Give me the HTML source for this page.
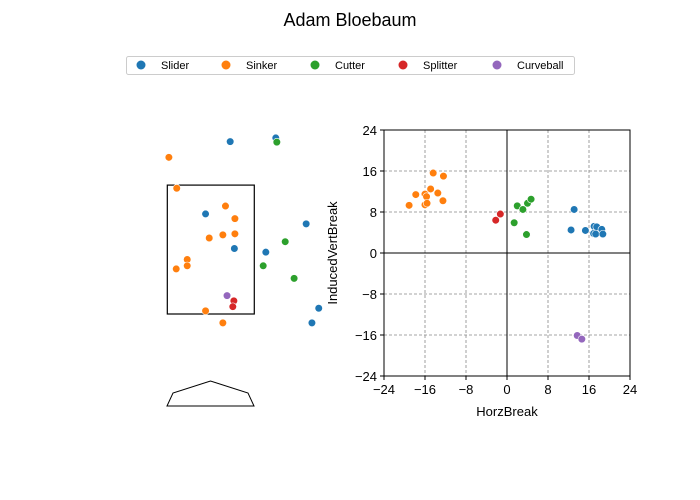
<!DOCTYPE html>
<html><head><meta charset="utf-8"><style>
body{margin:0;background:#fff;width:700px;height:500px;overflow:hidden;font-family:"Liberation Sans",sans-serif}
svg{display:block}
</style></head><body>
<svg id="chart" width="700" height="500" font-family="Liberation Sans, sans-serif">
<text x="350" y="26" text-anchor="middle" font-size="18">Adam Bloebaum</text>
<g id="legend">
<rect x="126.5" y="56.5" width="448" height="18" fill="#fff" stroke="#ccc" rx="2"/>
</g>
<g id="loc"></g>
<g id="mov"></g>
</svg>
<script>
const pitchTypes=["Slider","Sinker","Cutter","Splitter","Curveball"];
const typeColors=["#1f77b4","#ff7f0e","#2ca02c","#d62728","#9467bd"];
// movement data (inches)
const movType=[0,0,0,0,0,0,0,0,0, 1,1,1,1,1,1,1,1,1,1,1, 2,2,2,2,2,2, 3,3, 4,4];
const horzBreak=[13.1,12.5,15.3,17.0,17.5,18.5,16.9,17.3,18.7, -14.4,-12.4,-17.8,-16.0,-14.9,-13.5,-15.7,-12.5,-19.1,-16.0,-15.6, 2.0,3.1,4.0,4.7,1.4,3.8, -1.3,-2.2, 13.7,14.6];
const vertBreak=[8.5,4.5,4.4,5.2,5.1,4.6,3.8,3.7,3.7, 15.6,15.0,11.4,11.5,12.5,11.7,11.0,10.2,9.3,9.4,9.7, 9.2,8.5,9.7,10.5,5.9,3.6, 7.6,6.4, -16.1,-16.8];
const axisTicks=[-24,-16,-8,0,8,16,24];
// location data (feet)
const locType=[0,0,0,0,0,0,0,0, 2,2,2,2, 1,1,1,1,1,1,1,1,1,1,1,1, 4, 3,3];
const plateX=[0.37,1.24,-0.10,0.45,1.82,1.05,2.06,1.93, 1.26,1.42,1.00,1.59, -0.80,-0.65,0.28,0.46,-0.03,0.23,0.46,-0.45,-0.45,-0.66,-0.10,0.23, 0.31, 0.44,0.42];
const plateZ=[4.79,4.86,3.41,2.75,3.22,2.68,1.61,1.33, 4.78,2.88,2.42,2.18, 4.49,3.90,3.56,3.32,2.95,3.01,3.03,2.54,2.42,2.36,1.56,1.33, 1.85, 1.75,1.64];

const NS="http://www.w3.org/2000/svg";
function mk(parent,tag,attrs){const e=document.createElementNS(NS,tag);for(const k in attrs)e.setAttribute(k,attrs[k]);parent.appendChild(e);return e;}
const fmt=v=>v<0?'\u2212'+Math.abs(v):String(v);

// legend
const lg=document.getElementById('legend');
const lgX=[141,226,315,403,497];
pitchTypes.forEach((t,i)=>{
 const c=mk(lg,'circle',{cx:lgX[i],cy:65,r:4.5,fill:typeColors[i]});
 
 
 const tx=mk(lg,'text',{x:lgX[i]+20,y:69,'font-size':11});
 tx.textContent=t;
 
 
});

// movement plot
const mv=document.getElementById('mov');
const L=384,R=630,T=130,B=376;
const sx=v=>L+(v+24)/48*(R-L), sy=v=>B-(v+24)/48*(B-T);
axisTicks.forEach(v=>{
 if(v!==0&&Math.abs(v)!==24){
  const g1=mk(mv,'line',{x1:sx(v),x2:sx(v),y1:T,y2:B,stroke:'#888','stroke-width':0.8,'stroke-dasharray':'3,2'});
  
  
  const g2=mk(mv,'line',{x1:L,x2:R,y1:sy(v),y2:sy(v),stroke:'#888','stroke-width':0.8,'stroke-dasharray':'3,2'});
  
  
 }
 const t1=mk(mv,'line',{x1:sx(v),x2:sx(v),y1:B,y2:B+4,stroke:'#000'});
 
 
 const l1=mk(mv,'text',{x:sx(v),y:B+18,'text-anchor':'middle','font-size':13});
 l1.textContent=fmt(v);
 
 
 const t2=mk(mv,'line',{x1:L-4,x2:L,y1:sy(v),y2:sy(v),stroke:'#000'});
 
 
 const l2=mk(mv,'text',{x:L-7,y:sy(v)+5,'text-anchor':'end','font-size':13});
 l2.textContent=fmt(v);
 
 
});
const z1=mk(mv,'line',{x1:sx(0),x2:sx(0),y1:T,y2:B,stroke:'#000','stroke-width':1});


const z2=mk(mv,'line',{x1:L,x2:R,y1:sy(0),y2:sy(0),stroke:'#000','stroke-width':1});


const fr=mk(mv,'rect',{x:L,y:T,width:R-L,height:B-T,fill:'none',stroke:'#000','stroke-width':1});


horzBreak.forEach((h,i)=>{
 const c=mk(mv,'circle',{cx:sx(h),cy:sy(vertBreak[i]),r:3.8,fill:typeColors[movType[i]],stroke:'#fff','stroke-width':0.6});
 
 
});
const xl=mk(mv,'text',{x:(L+R)/2,y:416,'text-anchor':'middle','font-size':13});
xl.textContent='HorzBreak';


const yl=mk(mv,'text',{x:0,y:0,'text-anchor':'middle','font-size':13,transform:`translate(337,${(T+B)/2}) rotate(-90)`});
yl.textContent='InducedVertBreak';



// location plot
const lc=document.getElementById('loc');
const PX=52.4, cx0=210.8, zBase=314;
const lx=v=>cx0+v*PX, lz=v=>zBase-(v-1.5)*PX;
const zone=mk(lc,'rect',{x:lx(-0.83),y:lz(3.96),width:lx(0.83)-lx(-0.83),height:lz(1.5)-lz(3.96),fill:'none',stroke:'#000','stroke-width':1.2});


const plate=mk(lc,'polygon',{points:'167,406 173,393 210.5,381 248,393 254,406',fill:'none',stroke:'#000','stroke-width':1});


plateX.forEach((x,i)=>{
 const c=mk(lc,'circle',{cx:lx(x),cy:lz(plateZ[i]),r:3.8,fill:typeColors[locType[i]],stroke:'#fff','stroke-width':0.6});
 
 
});
</script>
</body></html>
